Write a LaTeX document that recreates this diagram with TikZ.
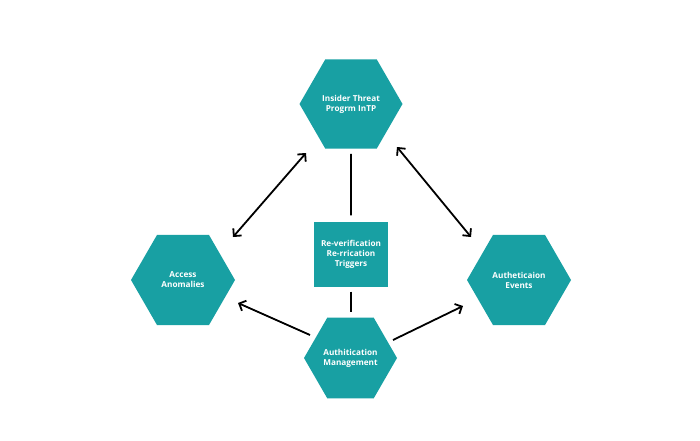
\documentclass[tikz,border=0pt]{standalone}
\usepackage{fontspec}
\setmainfont{Open Sans}
\usetikzlibrary{shapes.geometric,arrows.meta}
\definecolor{teal1}{RGB}{24,160,163}
\begin{document}
\begin{tikzpicture}[x=1pt,y=1pt,
  hexbox/.style={regular polygon, regular polygon sides=6, fill=teal1, draw=none, inner sep=0pt,
    text=white, font=\fontsize{8.2}{10}\selectfont\bfseries, align=center},
  sqbox/.style={rectangle, fill=teal1, minimum width=74pt, minimum height=65pt, inner sep=0pt,
    text=white, font=\fontsize{8.2}{10}\selectfont\bfseries, align=center},
  conn/.style={line width=1.8pt, black},
  arr/.style={conn, -{Straight Barb[length=5.5pt,width=11pt,line width=1.8pt]}},
  darr/.style={conn, {Straight Barb[length=5.5pt,width=11pt,line width=1.8pt]}-{Straight Barb[length=5.5pt,width=11pt,line width=1.8pt]}}
]
\useasboundingbox (0,0) rectangle (700,440);
\fill[white] (0,0) rectangle (700,440);

\node[hexbox, minimum size=103pt] (top) at (351,336) {Insider Threat\\Progrm InTP};
\node[hexbox, minimum size=104pt] (left) at (183,160) {Access\\Anomalies};
\node[hexbox, minimum size=104pt] (right) at (519,160) {Autheticaion\\Events};
\node[hexbox, minimum size=93pt] (bot) at (350.5,82) {Authitication\\Management};
\node[sqbox] (sq) at (351,186) {Re-verification\\Re-rrication\\Triggers};

\coordinate (a1s) at (233,203);
\coordinate (a1e) at (306,287);
\coordinate (a2s) at (397,293);
\coordinate (a2e) at (471,203);
\coordinate (a3s) at (310,105);
\coordinate (a3e) at (238,137);
\coordinate (a4s) at (393,100);
\coordinate (a4e) at (463,134);

\draw[darr] (a1s) -- (a1e);
\draw[darr] (a2s) -- (a2e);
\draw[arr] (a3s) -- (a3e);
\draw[arr] (a4s) -- (a4e);

\draw[conn, shorten <=5pt, shorten >=6pt] (top.south) -- (sq.north);
\draw[conn, shorten <=5pt, shorten >=6pt] (sq.south) -- (sq.south |- bot.north);
\end{tikzpicture}
\end{document}
